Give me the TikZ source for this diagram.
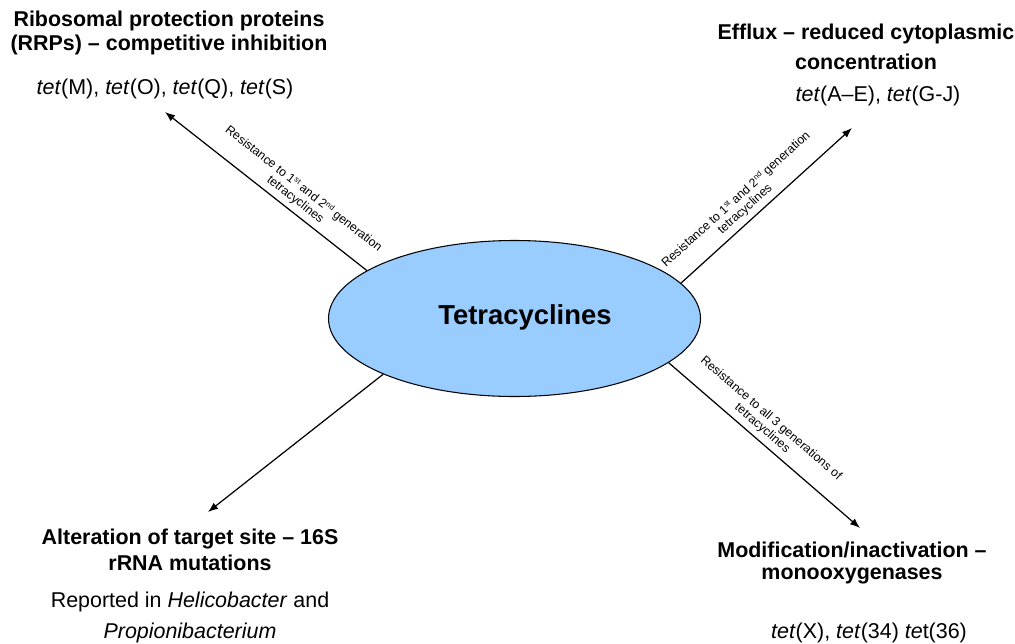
\documentclass[tikz,border=0pt]{standalone}
\usepackage{fontspec}
\setmainfont{Liberation Sans}
\usetikzlibrary{shapes.geometric,arrows.meta}
\definecolor{hubblue}{HTML}{99CCFF}
\newcommand{\ordsup}[1]{\raisebox{0.32em}{\fontsize{4.4}{5}\selectfont #1}}
\tikzset{
	hub/.style={ellipse, draw=black, line width=0.6pt, fill=hubblue, minimum width=7.44cm, minimum height=3.12cm, inner sep=0pt},
	hubtext/.style={font=\fontsize{15.6}{18}\selectfont\bfseries, inner sep=0pt},
	head/.style={font=\fontsize{12.2}{13.6}\selectfont\bfseries, align=center, inner sep=0pt},
	genes/.style={font=\fontsize{12.2}{17.6}\selectfont, align=center, inner sep=0pt},
	lbl/.style={font=\fontsize{7}{7.6}\selectfont, align=center, sloped, above=0.1cm, inner sep=0pt},
	link/.style={-{Latex[length=0.2cm,width=0.15cm]}, line width=0.7pt}
}

\begin{document}
\begin{tikzpicture}
			%%%%% START %%%%%
			\useasboundingbox (0, 0) rectangle (20.3, 12.86);
			
			\node[hub] (tet) at (10.29, 6.49) {};
			\node[hubtext] (tetname) at (10.5, 6.51) {Tetracyclines};
			
			% arrow tips
			\coordinate (rrpTip) at (3.30, 10.62);
			\coordinate (effluxTip) at (17.04, 10.30);
			\coordinate (modTip) at (17.20, 2.30);
			\coordinate (targetTip) at (4.16, 2.62);
			
			\draw[link] (tet.162) -- node[lbl, pos=0.39] {Resistance to 1\ordsup{st} and 2\ordsup{nd} generation\\tetracyclines} (rrpTip);
			\draw[link] (tet.12) -- node[lbl, pos=0.42] {Resistance to 1\ordsup{st} and 2\ordsup{nd} generation\\tetracyclines} (effluxTip);
			\draw[link] (tet.-16.6) -- node[lbl, pos=0.45] {Resistance to all 3 generations of\\tetracyclines} (modTip);
			\draw[link] (tet.203) -- (targetTip);
			
			% top left
			\node[head] (rrpHead) at (3.38, 12.20) {Ribosomal protection proteins\\(RRPs) – competitive inhibition};
			\node[genes] (rrpGenes) at (3.30, 11.08) {\textit{tet}(M), \textit{tet}(O), \textit{tet}(Q), \textit{tet}(S)};
			
			% top right
			\node[head] (effluxHead) at (17.32, 11.92) {Efflux – reduced cytoplasmic\\[3.4pt]concentration};
			\node[genes] (effluxGenes) at (17.56, 10.94) {\textit{tet}(A–E), \textit{tet}(G-J)};
			
			% bottom left
			\node[head] (targetHead) at (3.80, 1.86) {Alteration of target site – 16S\\[1.1pt]rRNA mutations};
			\node[genes] (targetNote) at (3.80, 0.52) {Reported in \textit{Helicobacter} and\\\textit{Propionibacterium}};
			
			% bottom right
			\node[head] (modHead) at (17.04, 1.60) {Modification/inactivation –\\[-0.6pt]monooxygenases};
			\node[genes] (modGenes) at (17.38, 0.20) {\textit{tet}(X), \textit{tet}(34) \textit{te}t(36)};
			
			%%%%% END %%%%%
\end{tikzpicture}
\end{document}
